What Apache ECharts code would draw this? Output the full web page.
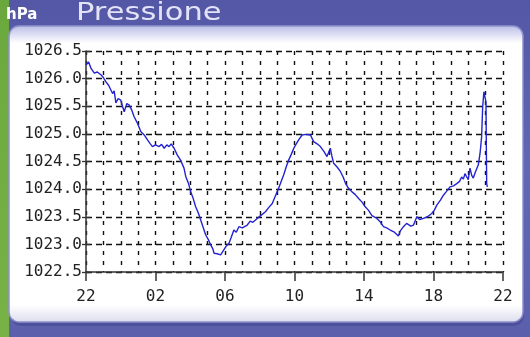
<!DOCTYPE html>
<html><head><meta charset="utf-8">
<script src="https://cdn.jsdelivr.net/npm/echarts@6/dist/echarts.min.js"></script>
<style>html,body{margin:0;padding:0;background:#5a5ea9}#c{width:530px;height:337px}</style>
</head><body><div id="c"></div>
<script>
// hours after 22:00
const hours = [0.00,0.15,0.30,0.48,0.65,0.86,1.00,1.15,1.30,1.53,1.62,1.72,1.85,2.00,2.10,2.20,2.35,2.49,2.62,2.77,2.95,3.16,3.35,3.54,3.70,3.83,4.00,4.21,4.35,4.50,4.65,4.78,4.90,5.07,5.25,5.45,5.64,5.74,5.90,6.03,6.15,6.31,6.45,6.60,6.75,6.89,7.05,7.18,7.30,7.37,7.55,7.75,7.85,7.94,8.05,8.23,8.35,8.51,8.65,8.80,9.00,9.28,9.45,9.60,9.86,10.05,10.33,10.50,10.72,10.85,11.00,11.19,11.38,11.52,11.67,11.80,11.96,12.10,12.24,12.44,12.65,12.92,13.10,13.30,13.49,13.70,13.87,14.06,14.15,14.25,14.45,14.64,14.80,14.93,15.10,15.31,15.50,15.69,15.90,16.07,16.25,16.46,16.74,16.90,17.12,17.30,17.51,17.75,17.98,18.10,18.27,18.45,18.56,18.70,18.85,19.04,19.20,19.42,19.65,19.90,20.05,20.19,20.40,20.57,20.75,20.95,21.15,21.34,21.50,21.62,21.72,21.81,22.00,22.10,22.20,22.29,22.40,22.49,22.58,22.68,22.77,22.83,22.90,22.96,23.02,23.04,23.06,23.10];
const pressure = [1026.25,1026.30,1026.18,1026.10,1026.12,1026.07,1026.02,1025.94,1025.88,1025.73,1025.78,1025.56,1025.64,1025.61,1025.50,1025.40,1025.55,1025.52,1025.44,1025.31,1025.20,1025.04,1024.98,1024.89,1024.82,1024.77,1024.80,1024.77,1024.81,1024.74,1024.80,1024.77,1024.82,1024.74,1024.62,1024.52,1024.38,1024.23,1024.10,1023.95,1023.85,1023.68,1023.58,1023.44,1023.30,1023.17,1023.08,1022.99,1022.92,1022.84,1022.83,1022.81,1022.86,1022.87,1022.96,1023.02,1023.12,1023.26,1023.22,1023.32,1023.30,1023.35,1023.42,1023.40,1023.47,1023.52,1023.59,1023.66,1023.74,1023.84,1023.95,1024.10,1024.26,1024.40,1024.53,1024.62,1024.74,1024.82,1024.89,1024.98,1024.99,1024.98,1024.86,1024.82,1024.77,1024.68,1024.59,1024.74,1024.60,1024.47,1024.40,1024.32,1024.22,1024.11,1024.02,1023.95,1023.90,1023.83,1023.76,1023.68,1023.62,1023.52,1023.47,1023.42,1023.32,1023.30,1023.26,1023.22,1023.15,1023.25,1023.32,1023.38,1023.41,1023.33,1023.35,1023.50,1023.45,1023.47,1023.50,1023.56,1023.62,1023.71,1023.80,1023.89,1023.96,1024.04,1024.06,1024.10,1024.14,1024.22,1024.18,1024.28,1024.17,1024.38,1024.25,1024.20,1024.30,1024.28,1024.44,1024.65,1024.95,1025.49,1025.76,1025.79,1025.58,1024.80,1024.10,1024.04];
const xTickLabels = ['22','02','06','10','14','18','22'];
const title = 'Pressione';
const unit = 'hPa';

const chart = echarts.init(document.getElementById('c'), null, {renderer:'canvas'});
const labelFont = {fontFamily:'DejaVu Sans Mono', fontSize:16, color:'#222'};
chart.setOption({
  animation:false,
  graphic:[
    {type:'rect', z:-20, shape:{x:0,y:0,width:530,height:337},
     style:{fill:new echarts.graphic.LinearGradient(0,0,0,1,[{offset:0,color:'#5357a5'},{offset:0.5,color:'#6367b3'},{offset:1,color:'#5c60ac'}])}},
    {type:'rect', z:-19, shape:{x:0,y:0,width:9,height:337},
     style:{fill:new echarts.graphic.LinearGradient(0,0,0,1,[{offset:0,color:'#6aa83e'},{offset:1,color:'#78b246'}])}},
    {type:'rect', z:-18, shape:{x:11,y:29,width:513,height:297,r:10}, style:{fill:'#4d519b'}},
    {type:'rect', z:-17, shape:{x:9,y:26,width:514,height:296,r:10},
     style:{fill:new echarts.graphic.LinearGradient(0,0,0,1,[{offset:0,color:'#b9bce6'},{offset:0.06,color:'#ffffff'},{offset:0.94,color:'#ffffff'},{offset:1,color:'#dcdcee'}]), stroke:'#8e92cc', lineWidth:1.5}},
    {type:'text', z:-10, x:6, y:8, style:{text:unit, font:'bold 15px "DejaVu Sans"', fill:'#ffffff'}},
    {type:'text', z:-10, x:76, y:1, scaleX:1.22, style:{text:title, font:'25px "DejaVu Sans"', fill:'#e2e3f7'}}
  ],
  grid:{left:86, right:27, top:51, bottom:65, containLabel:false},
  xAxis:{type:'value', min:0, max:24, interval:4,
    axisLine:{show:true, lineStyle:{color:'#333', width:1.5}},
    axisTick:{show:true, length:9, lineStyle:{color:'#333', width:1.5}},
    axisLabel:Object.assign({margin:17, formatter:v=>xTickLabels[Math.round(v/4)]}, labelFont),
    splitLine:{show:true, lineStyle:{color:'#111', type:[4,6], width:1.4}},
    minorTick:{show:false, splitNumber:4},
    minorSplitLine:{show:true, lineStyle:{color:'#111', type:[4,6], width:1.4}}
  },
  yAxis:[{type:'value', min:1022.5, max:1026.5, interval:0.5,
    axisLine:{show:true, lineStyle:{color:'#333', width:1.5}},
    axisTick:{show:true, length:4, lineStyle:{color:'#333', width:1.3}},
    axisLabel:Object.assign({margin:4, formatter:v=>v.toFixed(1)}, labelFont),
    splitLine:{show:true, lineStyle:{color:'#111', type:[6,4], width:1.4}}
  },{type:'value', min:1022.5, max:1026.5, interval:0.5, position:'left',
    axisLine:{show:false}, axisTick:{show:true, inside:true, length:4, lineStyle:{color:'#333', width:1.3}},
    axisLabel:{show:false}, splitLine:{show:false}}],
  series:[{type:'line', data:hours.map((h,i)=>[h,pressure[i]]), showSymbol:false,
    lineStyle:{color:'#2323d2', width:1.4}, z:5}]
});
</script></body></html>
